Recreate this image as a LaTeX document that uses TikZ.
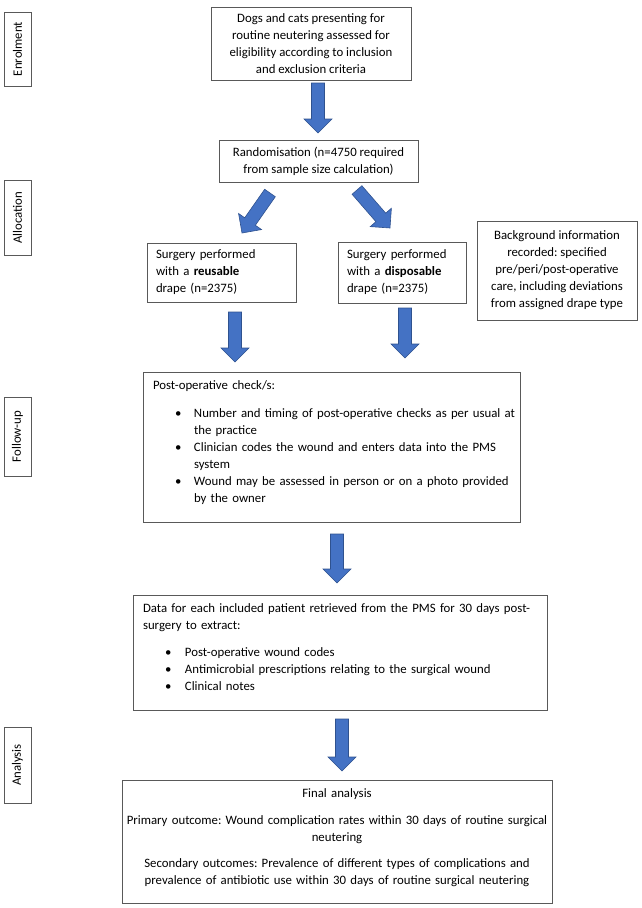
\documentclass[tikz,border=0pt]{standalone}
\usepackage{fontspec}
\setmainfont{Carlito}
\usetikzlibrary{calc}
\frenchspacing
\definecolor{arrfillc}{HTML}{4472C4}
\definecolor{arrline}{HTML}{2F528F}
\definecolor{boxline}{HTML}{595959}
\newcommand\blockarrow[2]{%
  \coordinate (tmpH) at ($(#2)!14pt!(#1)$);
  \filldraw[arr] ($(#1)!6.5pt!90:(#2)$) -- ($(tmpH)!6.5pt!90:(#2)$) -- ($(tmpH)!14pt!90:(#2)$) -- (#2)
    -- ($(tmpH)!14pt!-90:(#2)$) -- ($(tmpH)!6.5pt!-90:(#2)$) -- ($(#1)!6.5pt!-90:(#2)$) -- cycle;}
\begin{document}
\begin{tikzpicture}[x=1pt,y=-1pt,
  every node/.style={font=\fontsize{12.8}{17}\selectfont},
  box/.style={draw=boxline, line width=0.9pt, inner sep=0pt, outer sep=0pt},
  sidelabel/.style={box, rotate=90, minimum height=27pt},
  txt/.style={inner sep=0pt, outer sep=0pt},
  arr/.style={fill=arrfillc, draw=arrline, line width=0.6pt}]
\useasboundingbox (0,0) rectangle (642,908);

% side labels
\node[sidelabel, minimum width=74pt] (lenrol) at (17.5,49) {Enrolment};
\node[sidelabel, minimum width=75pt] (lalloc) at (17.5,217.5) {Allocation};
\node[sidelabel, minimum width=79pt] (lfollow) at (17.5,436.5) {Follow-up};
\node[sidelabel, minimum width=76pt] (lanal) at (17.5,765) {Analysis};

% boxes
\node[box, minimum width=200pt, minimum height=73pt, align=center] (enrol) at (311,43.5)
  {Dogs and cats presenting for\\routine neutering assessed for\\eligibility according to inclusion\\and exclusion criteria};
\node[box, minimum width=199pt, minimum height=42pt, align=center] (rand) at (318.5,161)
  {Randomisation (n=4750 required\\from sample size calculation)};
\node[box, minimum width=149pt, minimum height=59pt, inner xsep=9pt, text width=131pt, align=left] (reus) at (221.5,272.5)
  {Surgery performed\\with a \textbf{reusable}\\drape (n=2375)};
\node[box, minimum width=128pt, minimum height=61pt, inner xsep=9pt, text width=110pt, align=left] (disp) at (402,272.5)
  {Surgery performed\\with a \textbf{disposable}\\drape (n=2375)};
\node[box, minimum width=160pt, minimum height=99pt, align=center] (bg) at (557,270.5)
  {Background information\\recorded: specified\\pre/peri/post-operative\\care, including deviations\\from assigned drape type};

\node[box, minimum width=377pt, minimum height=150pt, anchor=north west] (fu) at (143,372) {};
\node[txt, anchor=base west, text width=370pt, align=left] (futext) at (153,389.5)
  {Post-operative check/s:\\[11pt]
   \hspace*{22pt}\makebox[19pt][l]{\textbullet}Number and timing of post-operative checks as per usual at\\
   \hspace*{41pt}the practice\\
   \hspace*{22pt}\makebox[19pt][l]{\textbullet}Clinician codes the wound and enters data into the PMS\\
   \hspace*{41pt}system\\
   \hspace*{22pt}\makebox[19pt][l]{\textbullet}Wound may be assessed in person or on a photo provided\\
   \hspace*{41pt}by the owner};

\node[box, minimum width=414pt, minimum height=115pt, anchor=north west] (data) at (133,595) {};
\node[txt, anchor=base west, text width=405pt, align=left] (datatext) at (143,612)
  {Data for each included patient retrieved from the PMS for 30 days post-\\
   surgery to extract:\\[10pt]
   \hspace*{22pt}\makebox[20pt][l]{\textbullet}Post-operative wound codes\\
   \hspace*{22pt}\makebox[20pt][l]{\textbullet}Antimicrobial prescriptions relating to the surgical wound\\
   \hspace*{22pt}\makebox[20pt][l]{\textbullet}Clinical notes};

\node[box, minimum width=430pt, minimum height=123pt, anchor=north west] (final) at (122,780) {};
\node[txt, anchor=base, text width=425pt, align=center] (finaltext) at (337,797)
  {Final analysis\\[10pt]
   Primary outcome: Wound complication rates within 30 days of routine surgical\\
   neutering\\[9pt]
   Secondary outcomes: Prevalence of different types of complications and\\
   prevalence of antibiotic use within 30 days of routine surgical neutering};

% arrow end points
\coordinate (a1s) at (318,83);  \coordinate (a1e) at (318,133);
\coordinate (dls) at (270,193); \coordinate (dle) at (242,233);
\coordinate (drs) at (357,190); \coordinate (dre) at (390,228);
\coordinate (vls) at (235,312); \coordinate (vle) at (235,362);
\coordinate (vrs) at (405,308); \coordinate (vre) at (405,358);
\coordinate (a3s) at (337,534); \coordinate (a3e) at (337,583);
\coordinate (a4s) at (342,719); \coordinate (a4e) at (342,771);

\blockarrow{a1s}{a1e}
\blockarrow{dls}{dle}
\blockarrow{drs}{dre}
\blockarrow{vls}{vle}
\blockarrow{vrs}{vre}
\blockarrow{a3s}{a3e}
\blockarrow{a4s}{a4e}
\end{tikzpicture}
\end{document}
